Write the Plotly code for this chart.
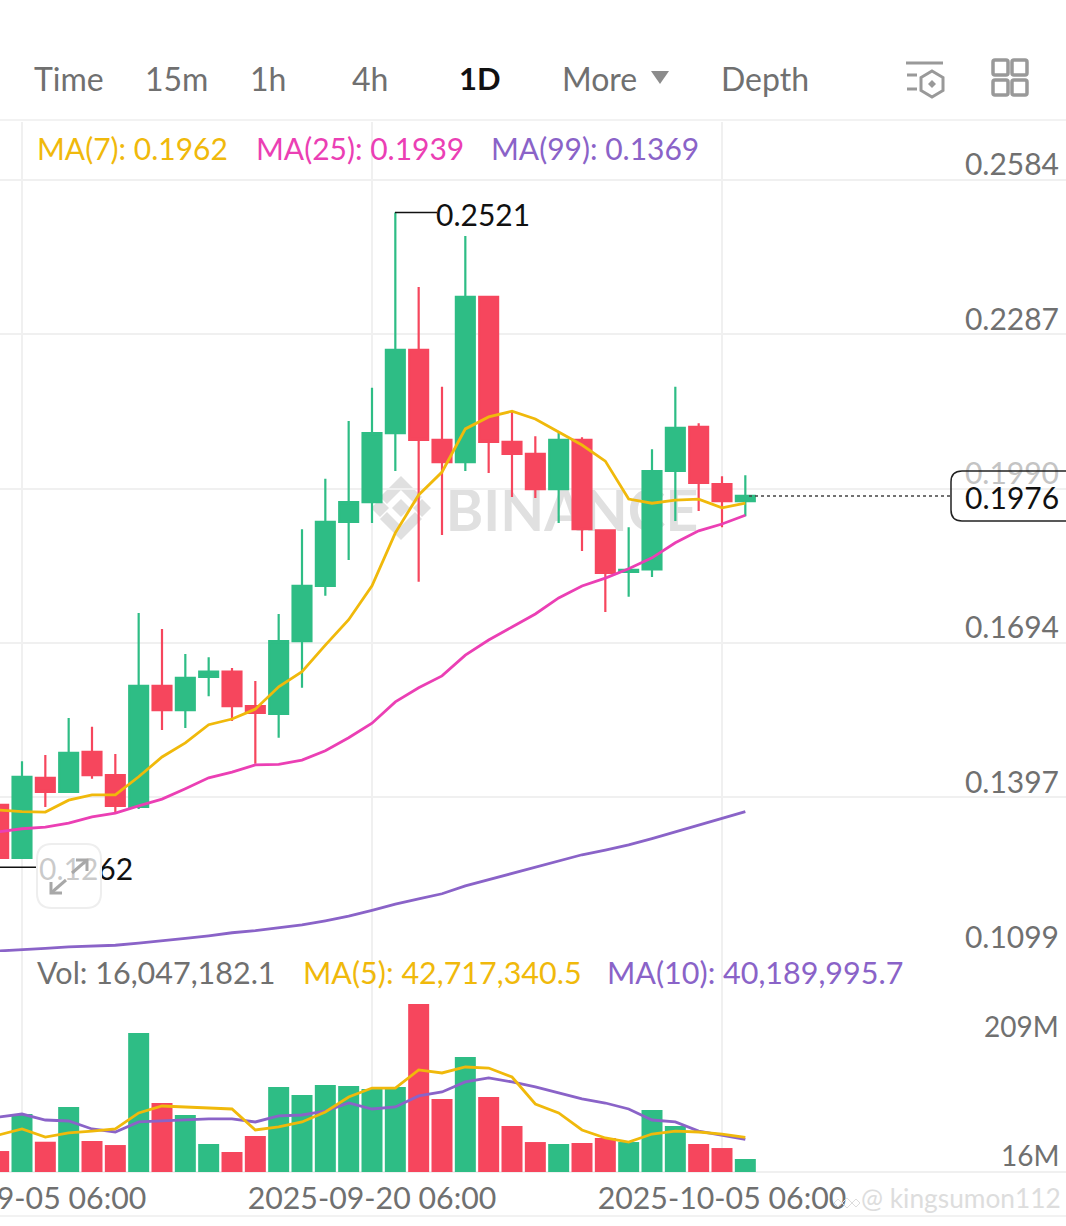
import pandas as pd
import plotly.graph_objects as go
from plotly.subplots import make_subplots

W = 1066
H = 1226
FONT = "Lato"
GREEN = "#2EBD85"
RED = "#F6465D"
YELLOW = "#F0B90B"
PINK = "#EB3FB4"
PURPLE = "#8A63C8"
GREY = "#707070"
GRID = "#F0F0F0"

dates = pd.date_range("2025-09-04 06:00", periods=33, freq="D")

opens = [0.1382, 0.1280, 0.1434, 0.1407, 0.1484, 0.1439, 0.1378, 0.1611, 0.1564, 0.1628, 0.1638,
         0.1572, 0.1557, 0.1697, 0.1803, 0.1926, 0.1964, 0.2097, 0.2257, 0.2084, 0.2041, 0.2359,
         0.2080, 0.2057, 0.1989, 0.2084, 0.1910, 0.1830, 0.1835, 0.2024, 0.2109, 0.1999, 0.1966]
highs = [0.1395, 0.1466, 0.1478, 0.1549, 0.1532, 0.1480, 0.1751, 0.1720, 0.1672, 0.1666, 0.1645,
         0.1620, 0.1749, 0.1912, 0.2009, 0.2120, 0.2184, 0.2521, 0.2378, 0.2186, 0.2476, 0.2361,
         0.2138, 0.2091, 0.2097, 0.2089, 0.1912, 0.1916, 0.2066, 0.2186, 0.2116, 0.2014, 0.2016]
lows = [0.1276, 0.1278, 0.1378, 0.1405, 0.1432, 0.1366, 0.1374, 0.1526, 0.1530, 0.1591, 0.1543,
        0.1461, 0.1511, 0.1607, 0.1784, 0.1853, 0.1924, 0.2024, 0.1811, 0.1901, 0.2024, 0.2020,
        0.1974, 0.1972, 0.1924, 0.1870, 0.1753, 0.1782, 0.1820, 0.1928, 0.1947, 0.1916, 0.1937]
closes = [0.1280, 0.1436, 0.1407, 0.1482, 0.1439, 0.1380, 0.1611, 0.1564, 0.1626, 0.1638, 0.1572,
          0.1559, 0.1697, 0.1803, 0.1926, 0.1964, 0.2097, 0.2257, 0.2084, 0.2041, 0.2359, 0.2080,
          0.2057, 0.1989, 0.2084, 0.1912, 0.1828, 0.1834, 0.2024, 0.2107, 0.2001, 0.1966, 0.1976]

ma7 = [0.1372, 0.1369, 0.1368, 0.1391, 0.1401, 0.1401, 0.1436, 0.1474, 0.1501, 0.1536, 0.1547,
       0.1566, 0.1609, 0.1638, 0.1689, 0.1738, 0.1803, 0.1905, 0.1978, 0.2022, 0.2105, 0.2128,
       0.2139, 0.2124, 0.2099, 0.2074, 0.2043, 0.1970, 0.1962, 0.1968, 0.1970, 0.1953, 0.1962]
ma25 = [0.1330, 0.1336, 0.1339, 0.1347, 0.1359, 0.1366, 0.1380, 0.1393, 0.1413, 0.1434, 0.1445,
        0.1459, 0.1460, 0.1468, 0.1486, 0.1511, 0.1539, 0.1580, 0.1607, 0.1630, 0.1670, 0.1699,
        0.1724, 0.1749, 0.1780, 0.1803, 0.1818, 0.1836, 0.1857, 0.1886, 0.1909, 0.1922, 0.1939]
ma99 = [0.1101, 0.1103, 0.1106, 0.1109, 0.1110, 0.1112, 0.1116, 0.1120, 0.1125, 0.1130, 0.1136,
        0.1140, 0.1145, 0.1151, 0.1159, 0.1168, 0.1179, 0.1191, 0.1201, 0.1211, 0.1226, 0.1238,
        0.1249, 0.1261, 0.1274, 0.1286, 0.1295, 0.1305, 0.1317, 0.1330, 0.1343, 0.1357, 0.1369]

# volumes in millions
volumes = [25.9, 71.6, 37.4, 80.3, 38.3, 33.3, 171.7, 85.2, 70.4, 34.6, 24.7, 44.5, 105.0, 95.1,
           107.4, 106.2, 102.5, 105.0, 207.5, 90.2, 142.0, 92.6, 56.8, 37.0, 34.6, 35.8, 42.0,
           37.0, 76.6, 56.8, 34.6, 29.6, 16.05]
vol_ma5 = [45.7, 53.1, 43.2, 48.2, 50.6, 53.1, 72.9, 81.5, 80.3, 79.0, 77.8, 51.9, 55.6, 61.8,
           74.1, 92.6, 103.7, 103.7, 126.0, 122.3, 129.7, 128.4, 117.3, 84.0, 72.9, 51.9, 42.0,
           37.0, 46.9, 50.6, 49.4, 46.9, 42.7]
vol_ma10 = [67.9, 71.6, 64.2, 63.0, 53.1, 49.4, 61.8, 63.0, 64.2, 65.5, 65.5, 61.8, 69.2, 70.4,
            75.3, 85.2, 77.8, 80.3, 93.9, 98.8, 111.2, 116.1, 111.2, 105.0, 97.6, 90.2, 85.2,
            77.8, 64.2, 61.8, 50.6, 45.7, 40.2]

price_ticks = [0.2584, 0.2287, 0.1990, 0.1694, 0.1397, 0.1099]
price_tick_text = ["0.2584", "0.2287", '<span style="color:#C4C4C4">0.1990</span>', "0.1694", "0.1397", "0.1099"]
time_ticks = ["2025-09-05 06:00", "2025-09-20 06:00", "2025-10-05 06:00"]
tabs = ["Time", "15m", "1h", "4h", "1D", "More", "Depth"]


def px(x):
    return x / W


def py(y):
    return 1 - y / H


def path(points):
    return "M " + " L ".join(f"{px(x):.5f} {py(y):.5f}" for x, y in points) + " Z"


def open_path(points):
    return "M " + " L ".join(f"{px(x):.5f} {py(y):.5f}" for x, y in points)


def round_rect(x0, y0, x1, y1, r):
    return (f"M {px(x0 + r):.5f} {py(y0):.5f} L {px(x1 - r):.5f} {py(y0):.5f} "
            f"Q {px(x1):.5f} {py(y0):.5f} {px(x1):.5f} {py(y0 + r):.5f} "
            f"L {px(x1):.5f} {py(y1 - r):.5f} Q {px(x1):.5f} {py(y1):.5f} {px(x1 - r):.5f} {py(y1):.5f} "
            f"L {px(x0 + r):.5f} {py(y1):.5f} Q {px(x0):.5f} {py(y1):.5f} {px(x0):.5f} {py(y1 - r):.5f} "
            f"L {px(x0):.5f} {py(y0 + r):.5f} Q {px(x0):.5f} {py(y0):.5f} {px(x0 + r):.5f} {py(y0):.5f} Z")


def diamond(cx, cy, r):
    return [(cx, cy - r), (cx + r, cy), (cx, cy + r), (cx - r, cy)]


def chevron(cx, cy, r, t, up):
    # binance logo arms
    s = -1 if up else 1
    return [(cx - r, cy), (cx, cy + s * r), (cx + r, cy), (cx + r - t, cy - s * t),
            (cx, cy + s * (r - 2 * t)), (cx - r + t, cy - s * t)]


def label(text, x, y, color=GREY, size=30, anchor="left"):
    # annotations carry about 3px of padding
    x = x - 3 if anchor == "left" else x + 3
    fig.add_annotation(text=text, x=px(x), y=py(y), xref="paper", yref="paper", xanchor=anchor,
                       yanchor="middle", showarrow=False, align=anchor,
                       font=dict(family=FONT, size=size, color=color))


def shape(d, fill="rgba(0,0,0,0)", color="rgba(0,0,0,0)", width=0, layer="above"):
    fig.add_shape(type="path", path=d, xref="paper", yref="paper", fillcolor=fill, layer=layer,
                  line=dict(color=color, width=width))


fig = make_subplots(rows=2, cols=1, shared_xaxes=True)

fig.add_trace(go.Candlestick(x=dates, open=opens, high=highs, low=lows, close=closes, whiskerwidth=0,
                             increasing=dict(line=dict(color=GREEN, width=2.2), fillcolor=GREEN),
                             decreasing=dict(line=dict(color=RED, width=2.2), fillcolor=RED)), 1, 1)
fig.add_trace(go.Scatter(x=dates, y=ma99, mode="lines", line=dict(color=PURPLE, width=2.8)), 1, 1)
fig.add_trace(go.Scatter(x=dates, y=ma25, mode="lines", line=dict(color=PINK, width=2.8)), 1, 1)
fig.add_trace(go.Scatter(x=dates, y=ma7, mode="lines", line=dict(color=YELLOW, width=2.8)), 1, 1)

bar_colors = [GREEN if c >= o else RED for o, c in zip(opens, closes)]
fig.add_trace(go.Bar(x=dates, y=[v * 1e6 for v in volumes], marker=dict(color=bar_colors, line=dict(width=0))), 2, 1)
fig.add_trace(go.Scatter(x=dates, y=[v * 1e6 for v in vol_ma10], mode="lines", line=dict(color=PURPLE, width=2.8)), 2, 1)
fig.add_trace(go.Scatter(x=dates, y=[v * 1e6 for v in vol_ma5], mode="lines", line=dict(color=YELLOW, width=2.8)), 2, 1)

# 23.33 px per day, 09-05 sits at x=22
first = pd.Timestamp(time_ticks[0])
day_px = 350 / 15
x_range = [first - pd.Timedelta(days=22 / day_px), first + pd.Timedelta(days=(W - 22) / day_px)]

xaxis_style = dict(range=x_range, type="date", tickvals=time_ticks, ticktext=time_ticks, showgrid=True,
                   gridcolor=GRID, gridwidth=2, zeroline=False, showline=False, ticks="",
                   automargin=False, rangeslider=dict(visible=False))

fig.update_layout(
    width=W, height=H,
    margin=dict(l=0, r=0, t=0, b=0, autoexpand=False),
    paper_bgcolor="white", plot_bgcolor="white",
    showlegend=False,
    boxgap=0.19, boxgroupgap=0, bargap=0.1,
    font=dict(family=FONT, color=GREY),
    xaxis=dict(domain=[0, 1], showticklabels=False, **xaxis_style),
    xaxis2=dict(domain=[0, 1], showticklabels=True, ticklabeloverflow="allow", ticklabelstandoff=6,
                tickfont=dict(family=FONT, size=30.3, color=GREY), **xaxis_style),
    yaxis=dict(domain=[py(952), py(122)], range=[0.1099, 0.1099 + 830 / 5200], side="right",
               tickvals=price_ticks, ticktext=price_tick_text, ticklabelposition="inside",
               ticklabeloverflow="allow", ticklabelstandoff=4, ticklabelshift=-15, ticks="",
               tickfont=dict(family=FONT, size=30, color=GREY), showgrid=True, gridcolor=GRID,
               gridwidth=2, zeroline=False, automargin=False),
    yaxis2=dict(domain=[py(1172), py(952)], range=[0, 220 * 1.235e6], showticklabels=False,
                showgrid=False, zeroline=True, zerolinecolor=GRID, zerolinewidth=2, ticks="",
                automargin=False),
)

# watermark sits under the candles
wm_x, wm_y = 401, 508
for d in [diamond(wm_x, wm_y, 9), diamond(wm_x - 21, wm_y, 9), diamond(wm_x + 21, wm_y, 9),
          chevron(wm_x, wm_y - 11, 21, 7, True), chevron(wm_x, wm_y + 11, 21, 7, False)]:
    shape(path(d), fill="#E0E0E0", layer="below")
fig.add_shape(type="rect", x0=px(440), x1=px(704), y0=py(530), y1=py(486), xref="paper", yref="paper",
              layer="below", line=dict(width=0),
              label=dict(text="<b>BINANCE</b>", textposition="middle center",
                         font=dict(family=FONT, size=57, color="#E0E0E0")))

# header separators
for y in [120, 1216]:
    fig.add_shape(type="line", x0=0, x1=1, y0=py(y), y1=py(y), xref="paper", yref="paper",
                  line=dict(color="#F2F2F2", width=2))

# last price line and tag
fig.add_shape(type="line", x0=px(749), x1=px(950), y0=closes[-1], y1=closes[-1], xref="paper", yref="y",
              line=dict(color="#444444", width=1.5, dash="3px,3px"))
shape(round_rect(951, 471, 1080, 521, 11), color="#222222", width=1.5)
label("0.1976", 1058, 497, color="#111111", anchor="right")

# high and low markers
fig.add_shape(type="line", x0=px(395), x1=px(437), y0=highs[17], y1=highs[17], xref="paper", yref="y",
              line=dict(color="#111111", width=1.5))
label("0.2521", 437, 214, color="#111111")
fig.add_shape(type="line", x0=0, x1=px(37), y0=0.1262, y1=0.1262, xref="paper", yref="y",
              line=dict(color="#111111", width=1.5))
fig.add_shape(type="rect", x0=px(36), x1=px(140), y0=py(888), y1=py(848), xref="paper", yref="paper",
              line=dict(width=0),
              label=dict(text="0.1262", textposition="middle left", padding=0,
                         font=dict(family=FONT, size=30, color="#111111")))

# expand button over the low label
shape(round_rect(37, 844, 101, 908, 15), fill="rgba(255,255,255,0.78)", color="#EEEEEE", width=2)
shape(open_path([(72, 873), (87, 860)]), color="#A8A8A8", width=3)
shape(open_path([(76, 860), (87, 860), (87, 871)]), color="#A8A8A8", width=3)
shape(open_path([(66, 880), (51, 893)]), color="#A8A8A8", width=3)
shape(open_path([(51, 882), (51, 893), (62, 893)]), color="#A8A8A8", width=3)

# tabs
tab_x = [35, 146, 251, 353, 460, 563, 722]
for name, x in zip(tabs, tab_x):
    if name == "1D":
        label("<b>1D</b>", x, 78, color="#111111", size=31)
    else:
        label(name, x, 79, size=32)
shape(path([(651, 71), (669, 71), (660, 84)]), fill="#8C8C8C")

# toolbar icons
for d in [[(906, 63), (943, 63)], [(907, 75), (917, 75)], [(907, 89), (917, 89)]]:
    shape(open_path(d), color="#999999", width=3)
shape(path([(932, 71), (943, 77.5), (943, 90.5), (932, 97), (921, 90.5), (921, 77.5)]), color="#999999", width=3)
shape(path(diamond(932, 84, 4)), fill="#999999")
for x0, y0 in [(993, 60), (1012, 60), (993, 80), (1012, 80)]:
    shape(round_rect(x0, y0, x0 + 15, y0 + 15, 2), color="#999999", width=3.5)

# moving average legends
label("MA(7): 0.1962", 38, 148, color=YELLOW)
label("MA(25): 0.1939", 257, 148, color=PINK)
label("MA(99): 0.1369", 492, 148, color=PURPLE)
label("Vol: 16,047,182.1", 38, 972, size=30.5)
label("MA(5): 42,717,340.5", 304, 972, color=YELLOW, size=30.5)
label("MA(10): 40,189,995.7", 608, 972, color=PURPLE, size=30.5)
label("209M", 1058, 1026, size=28, anchor="right")
label("16M", 1058, 1155, size=28, anchor="right")

# repost watermark
label("@ kingsumon112", 862, 1198, color="#DDDDDD", size=26.3)
for d in [diamond(847, 1203, 5), diamond(838, 1203, 4), diamond(856, 1203, 4)]:
    shape(path(d), color="#DDDDDD", width=1)

# the page's default body margin would push everything 8px in
fig.write_html("out.html", config={"displayModeBar": False},
               post_script="document.body.style.margin='0';document.body.style.overflow='hidden';")
